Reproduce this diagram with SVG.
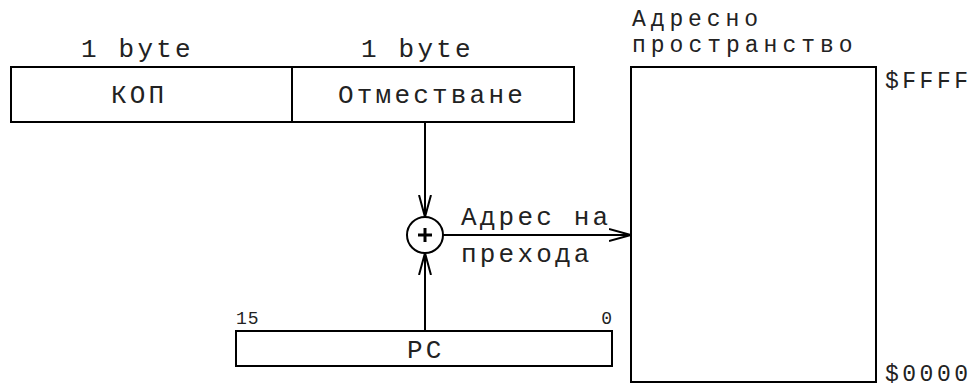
<svg xmlns="http://www.w3.org/2000/svg" width="977" height="390" viewBox="0 0 977 390">
<defs>
<style>
.t{font-family:"Liberation Mono","Courier New",monospace;font-size:26px;letter-spacing:3.2px;fill:#222}
.s{font-family:"Liberation Mono","Courier New",monospace;font-size:18px;letter-spacing:1px;fill:#222}
.a{font-family:"Liberation Mono","Courier New",monospace;font-size:23px;fill:#222}
.b{fill:#fff;stroke:#000;stroke-width:2}
.c{stroke:#000;stroke-width:2;fill:none}
</style>
<marker id="ah" viewBox="0 0 22 14" refX="22" refY="7" markerWidth="22" markerHeight="14" markerUnits="userSpaceOnUse" orient="auto">
<path d="M0,1 L22,7 L0,13" fill="none" stroke="#000" stroke-width="2"/>
</marker>
</defs>
<rect width="977" height="390" fill="#fff"/>
<g id="instr">
<text class="t" x="81" y="57">1 byte</text>
<text class="t" x="361" y="57">1 byte</text>
<g id="kop">
<rect class="b" x="11" y="67" width="281" height="55"/>
<text class="t" x="111" y="103">КОП</text>
</g>
<g id="offset">
<rect class="b" x="292" y="67" width="282" height="55"/>
<text class="t" x="338" y="103">Отместване</text>
</g>
</g>
<g id="adder">
<circle class="b" cx="425" cy="235" r="18"/>
<path d="M425,228 V242 M418,235 H432" stroke="#000" stroke-width="3"/>
</g>
<g id="pc">
<text class="s" x="236" y="324">15</text>
<text class="s" x="613" y="324" text-anchor="end" letter-spacing="0">0</text>
<rect class="b" x="236" y="331" width="376" height="35"/>
<text class="t" x="407" y="358">PC</text>
</g>
<g id="space">
<text class="a" x="632" y="26" letter-spacing="4.9">Адресно</text>
<text class="a" x="632" y="52" letter-spacing="5">пространство</text>
<rect class="b" x="631" y="67" width="245" height="315"/>
<text class="a" x="885" y="88" letter-spacing="3.5">$FFFF</text>
<text class="a" x="885" y="381" letter-spacing="3.5">$0000</text>
</g>
<g id="connectors">
<line class="c" x1="425" y1="122" x2="425" y2="217" marker-end="url(#ah)"/>
<line class="c" x1="425" y1="331" x2="425" y2="253" marker-end="url(#ah)"/>
<line class="c" x1="443" y1="235" x2="631" y2="235" marker-end="url(#ah)"/>
<text class="t" x="461" y="225">Адрес на</text>
<text class="t" x="461" y="262">прехода</text>
</g>
</svg>
